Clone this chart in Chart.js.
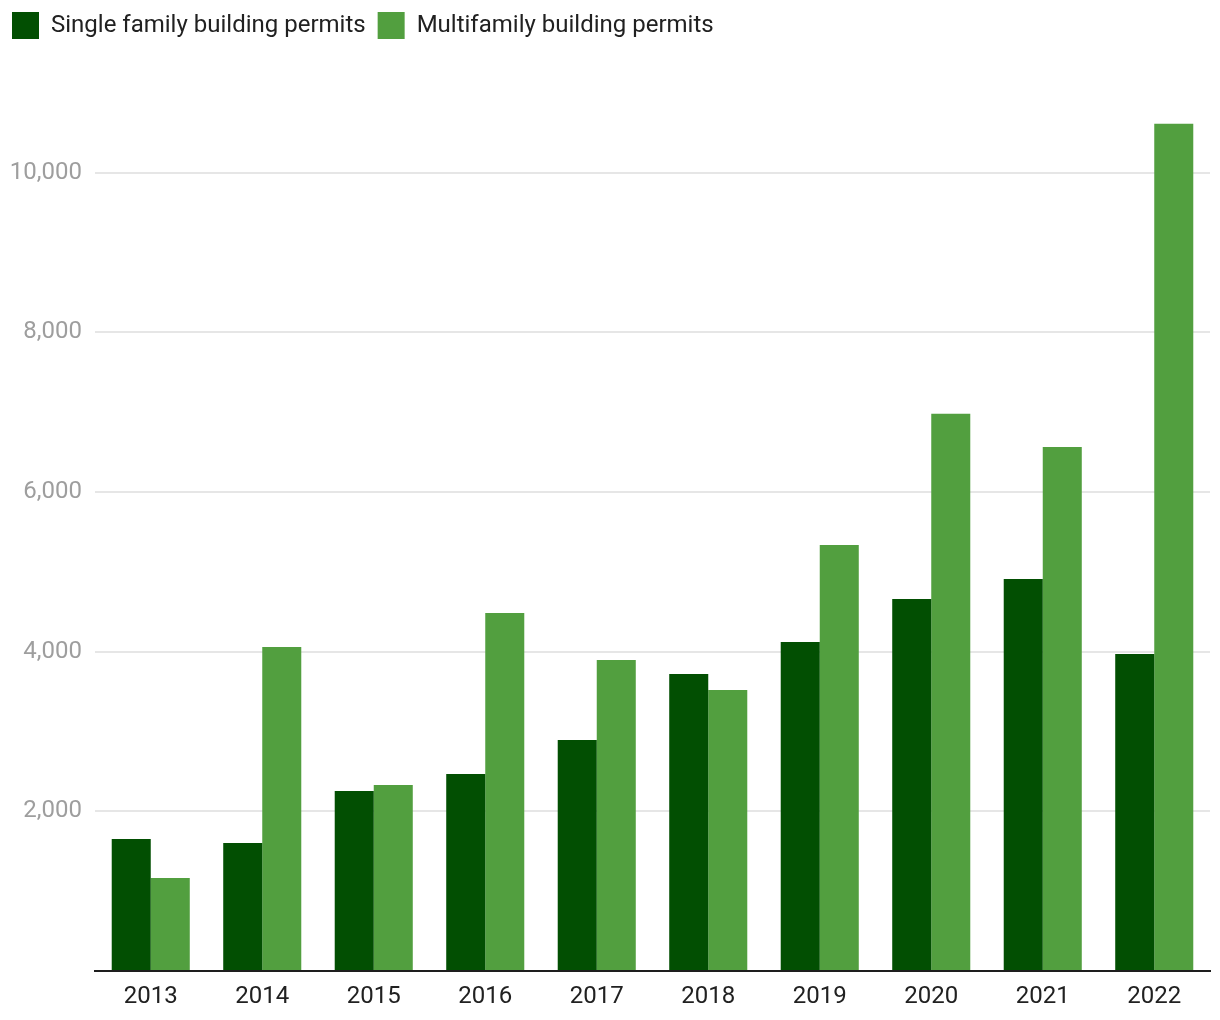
<!DOCTYPE html>
<html>
<head>
<meta charset="utf-8">
<script src="https://cdn.jsdelivr.net/npm/chart.js@4/dist/chart.umd.min.js"></script>
<style>
  html, body { margin: 0; padding: 0; background: #ffffff; }
  #wrap { width: 1220px; height: 1020px; position: relative; }
</style>
</head>
<body>
<div id="wrap"><canvas id="c" width="1220" height="1020"></canvas></div>
<script>
const categories = ["2013","2014","2015","2016","2017","2018","2019","2020","2021","2022"];
const seriesNames = ["Single family building permits", "Multifamily building permits"];
const singleFamily = [1654, 1604, 2256, 2469, 2895, 3722, 4123, 4662, 4912, 3972];
const multiFamily = [1165, 4060, 2331, 4486, 3897, 3521, 5338, 6980, 6566, 10614];
const yTickValues = [0, 2000, 4000, 6000, 8000, 10000];
const yMax = 11000;

const FONT = "Roboto, 'Noto Sans', sans-serif";

const legendHeightPlugin = {
  id: 'legendHeight',
  beforeInit(chart) {
    const origFit = chart.legend.fit;
    chart.legend.fit = function () {
      origFit.bind(chart.legend)();
      this.height = 93;
    };
  }
};

new Chart(document.getElementById('c'), {
  type: 'bar',
  data: {
    labels: categories,
    datasets: [
      { label: seriesNames[0], data: singleFamily, backgroundColor: '#024f02', borderWidth: 0 },
      { label: seriesNames[1], data: multiFamily, backgroundColor: '#529f3f', borderWidth: 0 }
    ]
  },
  options: {
    responsive: false,
    animation: false,
    devicePixelRatio: 1,
    layout: { padding: { top: 0, right: 10, left: 0, bottom: 0 } },
    datasets: { bar: { categoryPercentage: 0.7, barPercentage: 1.0 } },
    plugins: {
      legend: {
        position: 'top',
        align: 'start',
        labels: {
          boxWidth: 27,
          boxHeight: 27,
          padding: 12,
          color: '#212121',
          font: { family: FONT, size: 24 }
        }
      },
      tooltip: { enabled: false }
    },
    scales: {
      x: {
        grid: { display: false, drawTicks: false },
        border: { display: true, color: '#1e1e1e', width: 2 },
        ticks: { color: '#212121', font: { family: FONT, size: 24 }, padding: 12, maxRotation: 0 },
        afterFit(scale) { scale.height = 49; }
      },
      y: {
        min: 0,
        max: yMax,
        border: { display: false },
        grid: {
          drawTicks: false,
          lineWidth: 2,
          color: (ctx) => (ctx.tick && ctx.tick.value > 0) ? '#e6e6e6' : 'rgba(0,0,0,0)'
        },
        ticks: {
          padding: 13,
          color: '#9e9e9e',
          font: { family: FONT, size: 24 },
          callback: (v) => v > 0 ? Number(v).toLocaleString('en-US') : ''
        },
        afterBuildTicks(scale) { scale.ticks = yTickValues.map(v => ({ value: v })); },
        afterFit(scale) { scale.width = 95; }
      }
    }
  },
  plugins: [legendHeightPlugin]
});
</script>
</body>
</html>
